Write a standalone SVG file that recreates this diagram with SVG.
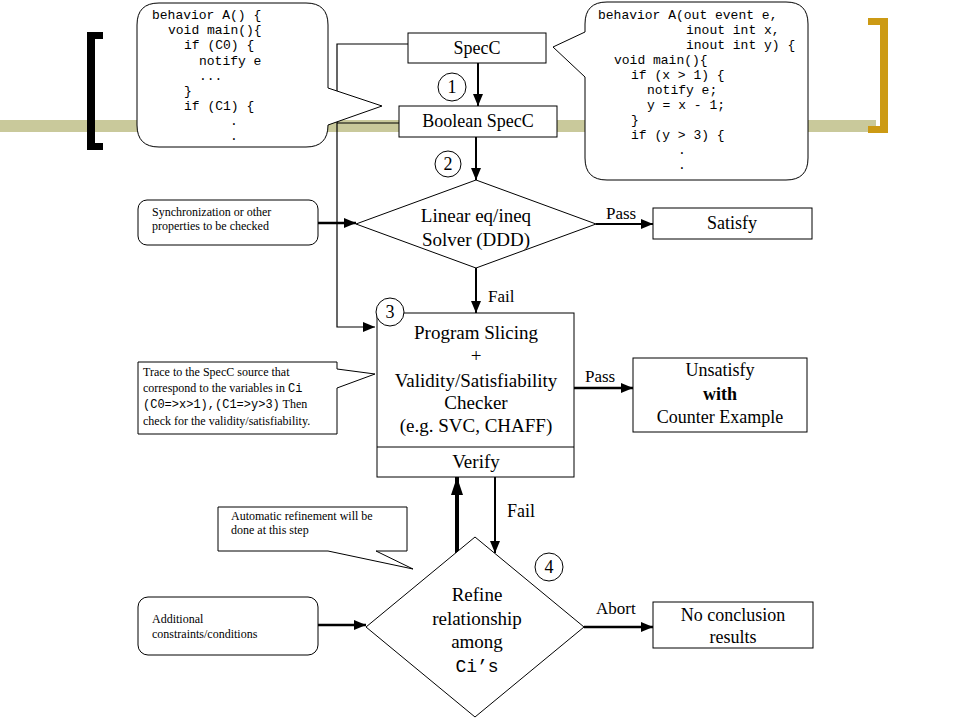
<svg xmlns="http://www.w3.org/2000/svg" width="960" height="720" viewBox="0 0 960 720">
<defs>
<marker id="ah" viewBox="0 0 12 10" refX="12" refY="5" markerWidth="12" markerHeight="10" markerUnits="userSpaceOnUse" orient="auto"><path d="M0,0 L12,5 L0,10 Z" fill="#000"/></marker>
<marker id="ahb" viewBox="0 0 18 12" refX="18" refY="6" markerWidth="18" markerHeight="12" markerUnits="userSpaceOnUse" orient="auto"><path d="M0,0 L18,6 L0,12 Z" fill="#000"/></marker>
</defs>
<style>
.box{fill:#fff;stroke:#000;stroke-width:1}
.serif{font-family:"Liberation Serif","Times New Roman",serif;fill:#000}
.mono{font-family:"Liberation Mono","Courier New",monospace;fill:#000}
.big{font-size:18px}
.lbl{font-size:17px}
.small{font-size:12px}
.code{font-size:13px}
.ctr{text-anchor:middle}
.ln{fill:none;stroke:#000;stroke-width:1}
.arr{fill:none;stroke:#000;stroke-width:2;marker-end:url(#ah)}
</style>
<rect x="0" y="0" width="960" height="720" fill="#fff"/>
<g id="decor">
<rect x="0" y="120" width="876" height="12" fill="#c9c99b"/>
<path d="M87,32 H103 V39 H95 V143 H103 V150 H87 Z" fill="#000"/>
<path d="M868,18 H888 V133 H868 V126 H880 V25 H868 Z" fill="#cc9a14"/>
</g>
<g id="connectors">
<polyline class="ln" points="408,44 337,44 337,327 375,327" style="marker-end:url(#ah);stroke-width:1.2"/>
<line class="ln" x1="337" y1="123" x2="399" y2="123"/>
<line class="arr" x1="478" y1="63" x2="478" y2="106"/>
<line class="arr" x1="476" y1="137" x2="476" y2="180"/>
<line class="arr" x1="318" y1="223" x2="356" y2="223" style="stroke-width:2.5"/>
<line class="arr" x1="596" y1="224" x2="653" y2="224"/>
<line class="arr" x1="476" y1="268" x2="476" y2="313"/>
<line class="arr" x1="574" y1="388" x2="633" y2="388" style="stroke-width:2.5"/>
<line x1="457" y1="553" x2="457" y2="477" stroke="#000" stroke-width="4" marker-end="url(#ahb)"/>
<line class="arr" x1="495" y1="477" x2="495" y2="553"/>
<line class="arr" x1="318" y1="625" x2="366" y2="625" style="stroke-width:2.5"/>
<line class="arr" x1="584" y1="627" x2="653" y2="627" style="stroke-width:2.5"/>
<text class="serif lbl" x="606" y="219">Pass</text>
<text class="serif lbl" x="488" y="302">Fail</text>
<text class="serif lbl" x="585" y="382">Pass</text>
<text class="serif big" x="507" y="517">Fail</text>
<text class="serif lbl" x="596" y="614">Abort</text>
</g>
<g id="bubble-left">
<path class="box" d="M159,3 H306 Q328,3 328,25 V88 L382,106 L328,125 Q328,147 306,147 H159 Q137,147 137,125 V25 Q137,3 159,3 Z"/>
<text class="mono code" x="152" y="19">behavior A() {</text>
<text class="mono code" x="168" y="34">void main(){</text>
<text class="mono code" x="184" y="49">if (C0) {</text>
<text class="mono code" x="199" y="65">notify e</text>
<text class="mono code" x="199" y="80">...</text>
<text class="mono code" x="184" y="95">}</text>
<text class="mono code" x="184" y="110">if (C1) {</text>
<text class="mono code" x="230" y="125">.</text>
<text class="mono code" x="230" y="140">.</text>
</g>
<g id="bubble-right">
<path class="box" d="M607,2 H786 Q808,2 808,24 V158 Q808,180 786,180 H607 Q585,180 585,158 V77 L553,47 L585,32 V24 Q585,2 607,2 Z"/>
<text class="mono code" x="598" y="19">behavior A(out event e,</text>
<text class="mono code" x="686" y="34">inout int x,</text>
<text class="mono code" x="686" y="49">inout int y) {</text>
<text class="mono code" x="614" y="64">void main(){</text>
<text class="mono code" x="631" y="79">if (x &gt; 1) {</text>
<text class="mono code" x="647" y="94">notify e;</text>
<text class="mono code" x="647" y="109">y = x - 1;</text>
<text class="mono code" x="631" y="124">}</text>
<text class="mono code" x="631" y="139">if (y &gt; 3) {</text>
<text class="mono code" x="678" y="154">.</text>
<text class="mono code" x="678" y="169">.</text>
</g>
<g id="specc">
<rect class="box" x="408" y="33" width="138" height="30"/>
<text class="serif big ctr" x="477" y="54">SpecC</text>
</g>
<g id="boolean-specc">
<rect class="box" x="399" y="106" width="158" height="31"/>
<text class="serif big ctr" x="478" y="127">Boolean SpecC</text>
</g>
<g id="step1">
<circle class="box" cx="452" cy="87" r="14"/>
<text class="serif big ctr" x="452" y="93">1</text>
</g>
<g id="step2">
<circle class="box" cx="448" cy="164" r="13"/>
<text class="serif big ctr" x="448" y="170">2</text>
</g>
<g id="sync">
<rect class="box" x="138" y="200" width="180" height="45" rx="9"/>
<text class="serif small" x="152" y="216">Synchronization or other</text>
<text class="serif small" x="152" y="230">properties to be checked</text>
</g>
<g id="solver">
<polygon class="box" points="476,180 596,224 476,268 356,224"/>
<text class="serif ctr" style="font-size:19px" x="476" y="222">Linear eq/ineq</text>
<text class="serif ctr" style="font-size:19px" x="476" y="246">Solver (DDD)</text>
</g>
<g id="satisfy">
<rect class="box" x="653" y="208" width="159" height="31"/>
<text class="serif big ctr" x="732" y="229">Satisfy</text>
</g>
<g id="checker">
<rect class="box" x="377" y="313" width="197" height="164"/>
<line class="ln" x1="377" y1="447" x2="574" y2="447"/>
<text class="serif ctr" style="font-size:19px" x="476" y="339">Program Slicing</text>
<text class="serif ctr" style="font-size:19px" x="476" y="362">+</text>
<text class="serif ctr" style="font-size:19px" x="476" y="387">Validity/Satisfiability</text>
<text class="serif ctr" style="font-size:19px" x="476" y="409">Checker</text>
<text class="serif ctr" style="font-size:19px" x="476" y="432">(e.g. SVC, CHAFF)</text>
<text class="serif ctr" style="font-size:19px" x="476" y="468">Verify</text>
</g>
<g id="step3">
<circle class="box" cx="390" cy="312" r="14"/>
<text class="serif big ctr" x="390" y="318">3</text>
</g>
<g id="trace-note">
<path class="box" d="M138,362 H337 V369 L375,374 L337,388 V434 H138 Z"/>
<text class="serif small" x="143" y="376">Trace to the SpecC source that</text>
<text class="serif small" x="143" y="392">correspond to the variables in <tspan class="mono">Ci</tspan></text>
<text class="serif small" x="143" y="408"><tspan class="mono">(C0=&gt;x&gt;1),(C1=&gt;y&gt;3)</tspan> Then</text>
<text class="serif small" x="143" y="425">check for the validity/satisfiability.</text>
</g>
<g id="unsatisfy">
<rect class="box" x="633" y="358" width="174" height="74"/>
<text class="serif big ctr" x="720" y="376">Unsatisfy</text>
<text class="serif big ctr" x="720" y="400" font-weight="bold">with</text>
<text class="serif big ctr" x="720" y="423">Counter Example</text>
</g>
<g id="auto-note">
<path class="box" d="M218,507 H407 V551 H376 L413,569 L328,551 H218 Z"/>
<text class="serif small" x="231" y="520">Automatic refinement will be</text>
<text class="serif small" x="231" y="534">done at this step</text>
</g>
<g id="refine">
<polygon class="box" points="475,537 584,627 475,717 366,627"/>
<text class="serif ctr" style="font-size:19px" x="477" y="601">Refine</text>
<text class="serif ctr" style="font-size:19px" x="477" y="625">relationship</text>
<text class="serif ctr" style="font-size:19px" x="477" y="648">among</text>
<text class="mono ctr" style="font-size:18px" x="477" y="672">Ci’s</text>
</g>
<g id="step4">
<circle class="box" cx="549" cy="567" r="14"/>
<text class="serif big ctr" x="549" y="573">4</text>
</g>
<g id="additional">
<rect class="box" x="138" y="597" width="180" height="58" rx="10"/>
<text class="serif small" x="152" y="623">Additional</text>
<text class="serif small" x="152" y="638">constraints/conditions</text>
</g>
<g id="no-conclusion">
<rect class="box" x="653" y="602" width="160" height="46"/>
<text class="serif big ctr" x="733" y="621">No conclusion</text>
<text class="serif big ctr" x="733" y="643">results</text>
</g>
</svg>
